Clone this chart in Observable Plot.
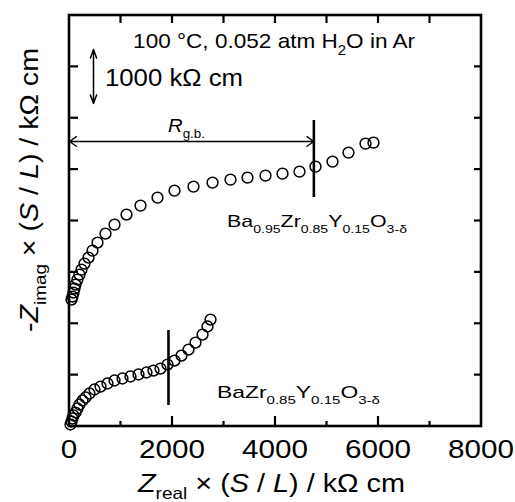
<!DOCTYPE html>
<html><head><meta charset="utf-8">
<script src="https://cdn.jsdelivr.net/npm/d3@7"></script>
<script src="https://cdn.jsdelivr.net/npm/@observablehq/plot@0.6"></script>
<style>body{margin:0;background:#fff} svg{display:block} text{white-space:pre}</style>
</head><body><div id="chart"></div>
<script>
const FONT = "'Liberation Sans', Arial, Helvetica, sans-serif";

// Axis ticks (kΩ cm)
const xMajorTicks = [0, 2000, 4000, 6000, 8000];
const xMinorTicks = [1000, 3000, 5000, 7000];
const yTicks = [1000, 2000, 3000, 4000, 5000, 6000, 7000];
const xTickLabels = ["0", "2000", "4000", "6000", "8000"];

// BaZr0.85Y0.15O3-δ : Z_real, -Z_imag (kΩ cm)
const bzyReal = [19, 39, 58, 78, 117, 155, 194, 252, 311, 388, 485, 602, 738, 874, 1029, 1184, 1340, 1495, 1631, 1767, 1903, 2039, 2175, 2311, 2447, 2583, 2680, 2738];
const bzyImag = [39, 97, 156, 214, 272, 350, 428, 506, 564, 642, 720, 778, 837, 895, 934, 973, 1012, 1051, 1089, 1128, 1206, 1284, 1381, 1498, 1634, 1790, 1946, 2082];

// Ba0.95Zr0.85Y0.15O3-δ : Z_real, -Z_imag (kΩ cm), drawn shifted up by an offset
const bazReal = [39, 58, 78, 97, 117, 155, 194, 233, 291, 369, 447, 544, 699, 874, 1107, 1379, 1709, 2039, 2408, 2777, 3126, 3456, 3806, 4136, 4466, 4777, 5107, 5417, 5748, 5903];
const bazImag = [21, 79, 157, 235, 313, 410, 507, 604, 721, 838, 974, 1130, 1305, 1480, 1675, 1850, 2005, 2141, 2219, 2297, 2355, 2394, 2433, 2472, 2511, 2608, 2706, 2881, 3056, 3075];
const bazOffset = 2450;

// Grain-boundary resistance markers
const rgbBaz = 4745;
const rgbBzy = 1922;
const rgbBazSpan = [4457, 5956];
const rgbBzySpan = [409, 1869];
const rgbArrowY = 5548;

// 1000 kΩ cm scale bar
const scaleBarX = 466;
const scaleBarSpan = [6287, 7338];

const bzy = bzyReal.map((x, i) => ({x, y: bzyImag[i]}));
const baz = bazReal.map((x, i) => ({x, y: bazImag[i] + bazOffset}));

const xDomain = [0, 8000], yDomain = [0, 8000];

const plot = Plot.plot({
  width: 515, height: 502,
  marginLeft: 69, marginRight: 34, marginTop: 15, marginBottom: 76,
  style: {fontFamily: FONT, color: "black", background: "white"},
  x: {domain: xDomain, axis: null},
  y: {domain: yDomain, axis: null},
  marks: [
    Plot.dot(bzy, {x: "x", y: "y", r: 5.4, stroke: "black", fill: "none", strokeWidth: 1.5}),
    Plot.dot(baz, {x: "x", y: "y", r: 5.4, stroke: "black", fill: "none", strokeWidth: 1.5}),
    Plot.ruleX([rgbBzy], {y1: rgbBzySpan[0], y2: rgbBzySpan[1], stroke: "black", strokeWidth: 2.6}),
    Plot.ruleX([rgbBaz], {y1: rgbBazSpan[0], y2: rgbBazSpan[1], stroke: "black", strokeWidth: 2.6}),
    Plot.arrow([{a: rgbBaz / 2, b: 0}, {a: rgbBaz / 2, b: rgbBaz}], {x1: "a", x2: "b", y1: rgbArrowY, y2: rgbArrowY, stroke: "black", strokeWidth: 1.4, headLength: 9, headAngle: 70}),
    Plot.arrow([{a: (scaleBarSpan[0] + scaleBarSpan[1]) / 2, b: scaleBarSpan[0]}, {a: (scaleBarSpan[0] + scaleBarSpan[1]) / 2, b: scaleBarSpan[1]}], {x1: scaleBarX, x2: scaleBarX, y1: "a", y2: "b", stroke: "black", strokeWidth: 1.5, headLength: 10, headAngle: 40})
  ]
});

const svg = d3.select(plot);
const sx = plot.scale("x"), sy = plot.scale("y");
const X = v => sx.apply(v), Y = v => sy.apply(v);
const x0 = X(xDomain[0]), x1 = X(xDomain[1]), y0 = Y(yDomain[0]), y1 = Y(yDomain[1]);

// Inward ticks and frame
const tk = svg.append("g").attr("stroke", "black").attr("stroke-width", 2.2);
const line = (a, b, c, d) => tk.append("line").attr("x1", a).attr("y1", b).attr("x2", c).attr("y2", d);
for (const v of xMajorTicks.slice(1, -1)) { line(X(v), y0, X(v), y0 - 10); line(X(v), y1, X(v), y1 + 8); }
for (const v of xMinorTicks) { line(X(v), y0, X(v), y0 - 5); line(X(v), y1, X(v), y1 + 8); }
for (const v of yTicks) { line(x0, Y(v), x0 + 9, Y(v)); line(x1, Y(v), x1 - 7, Y(v)); }
svg.append("rect").attr("x", x0).attr("y", y1).attr("width", x1 - x0).attr("height", y0 - y1)
  .attr("fill", "none").attr("stroke", "black").attr("stroke-width", 2.6);

// Tick labels
const tl = svg.append("g").attr("font-family", FONT).attr("font-size", 25).attr("fill", "black").attr("text-anchor", "middle");
xMajorTicks.forEach((v, i) => {
  tl.append("text").attr("x", X(v)).attr("y", y0 + 32).text(xTickLabels[i])
    .attr("textLength", xTickLabels[i].length * 16.5).attr("lengthAdjust", "spacingAndGlyphs");
});

function rich(parent, parts, size, attrs, subShift = 0.33) {
  const t = parent.append("text").attr("font-family", FONT).attr("font-size", size).attr("fill", "black").attr("text-anchor", "start");
  for (const k in attrs) t.attr(k, attrs[k]);
  let cur = 0;
  for (const p of parts) {
    const ts = t.append("tspan").text(p.t);
    const shift = p.sub ? size * subShift : 0;
    if (shift - cur !== 0) ts.attr("dy", shift - cur);
    cur = shift;
    if (p.sub) ts.attr("font-size", size * 0.66);
    if (p.i) ts.attr("font-style", "italic");
  }
  return t;
}
const g = svg.append("g");

rich(g, [{t: "100 °C, 0.052 atm H"}, {t: "2", sub: 1}, {t: "O in Ar"}], 21,
  {x: X(1245), y: Y(7358), textLength: 282, lengthAdjust: "spacingAndGlyphs"});
rich(g, [{t: "1000 kΩ cm"}], 23,
  {x: X(699), y: Y(6618), textLength: 138, lengthAdjust: "spacingAndGlyphs"});
rich(g, [{t: "R", i: 1}, {t: "g.b.", sub: 1}], 19,
  {x: X(1922), y: Y(5723), textLength: 37, lengthAdjust: "spacingAndGlyphs"});
rich(g, [{t: "Ba"}, {t: "0.95", sub: 1}, {t: "Zr"}, {t: "0.85", sub: 1}, {t: "Y"}, {t: "0.15", sub: 1}, {t: "O"}, {t: "3-δ", sub: 1}], 17,
  {x: X(3068), y: Y(3874), textLength: 180, lengthAdjust: "spacingAndGlyphs"});
rich(g, [{t: "BaZr"}, {t: "0.85", sub: 1}, {t: "Y"}, {t: "0.15", sub: 1}, {t: "O"}, {t: "3-δ", sub: 1}], 17,
  {x: X(2874), y: Y(546), textLength: 163, lengthAdjust: "spacingAndGlyphs"});

rich(g, [{t: "Z", i: 1}, {t: "real", sub: 1}, {t: " × ("}, {t: "S", i: 1}, {t: " / "}, {t: "L", i: 1}, {t: ") / kΩ cm"}], 25,
  {x: 138, y: 492, textLength: 267, lengthAdjust: "spacingAndGlyphs"}, 0.27);
rich(g, [{t: "-"}, {t: "Z", i: 1}, {t: "imag", sub: 1}, {t: " × ("}, {t: "S", i: 1}, {t: " / "}, {t: "L", i: 1}, {t: ") / kΩ cm"}], 25,
  {transform: "translate(38,190) rotate(-90)", "text-anchor": "middle", textLength: 284, lengthAdjust: "spacingAndGlyphs"});

document.getElementById("chart").append(plot);
</script>
</body></html>
